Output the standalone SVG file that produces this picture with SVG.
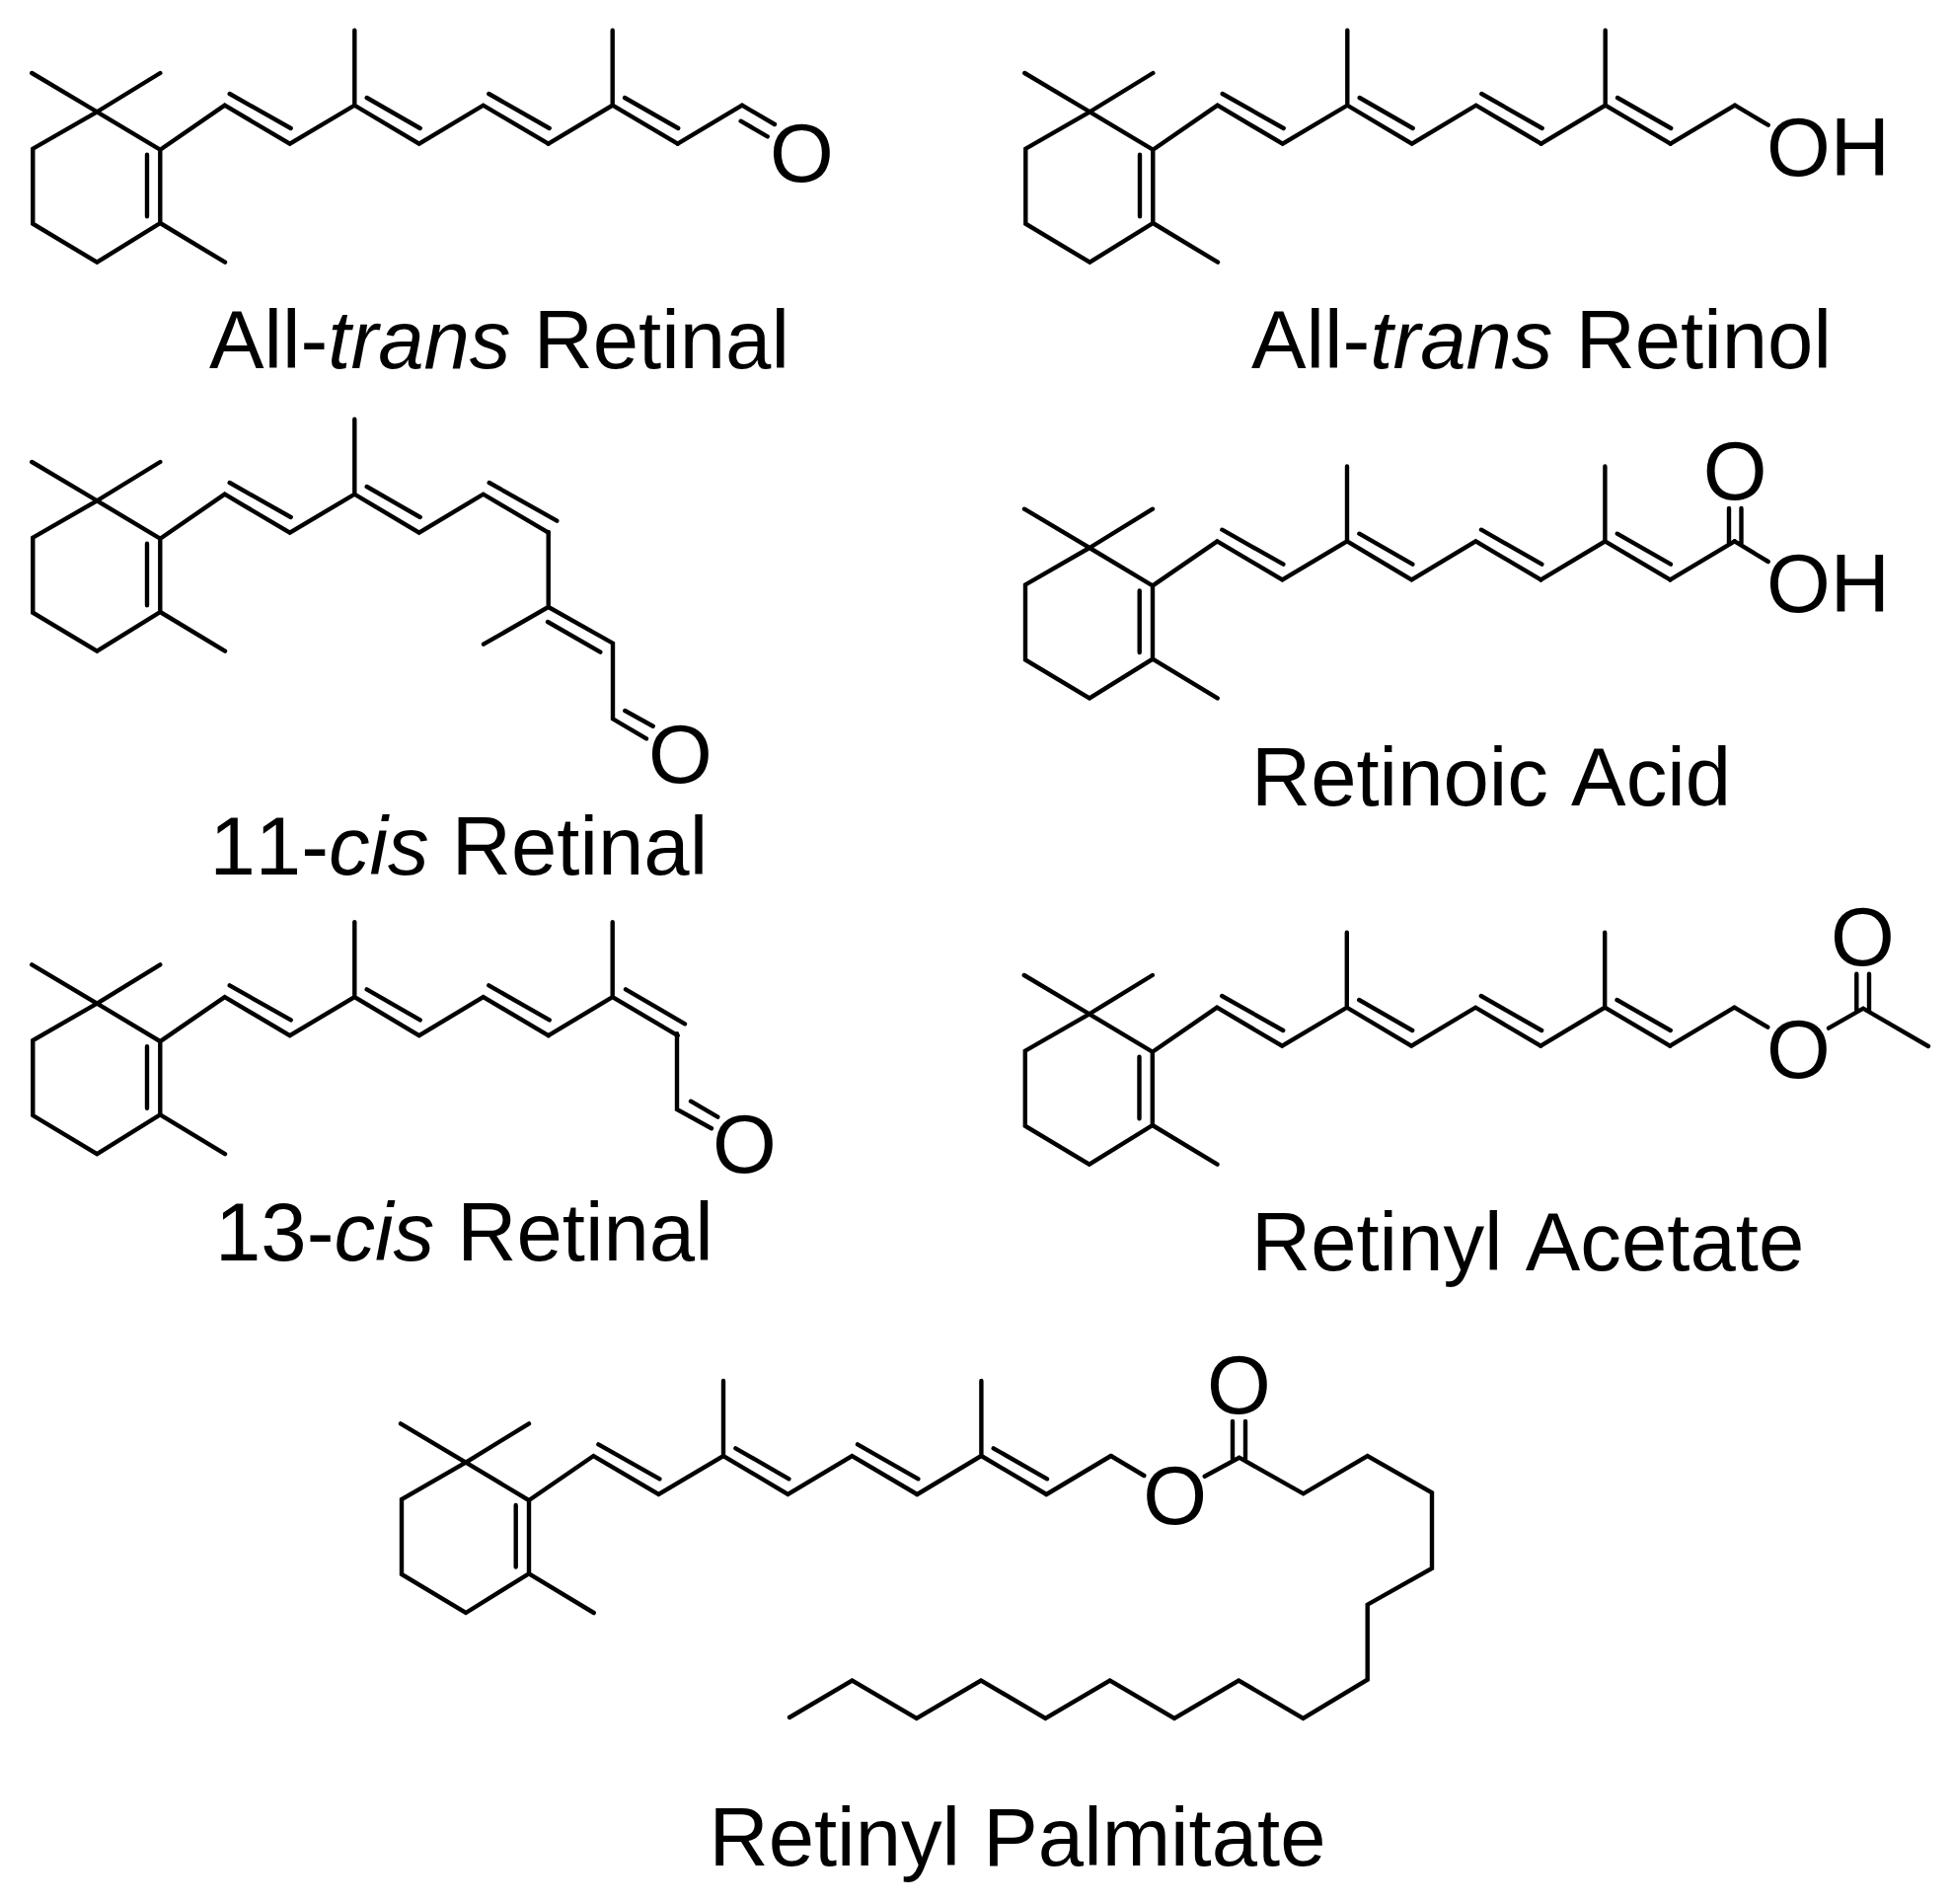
<svg xmlns="http://www.w3.org/2000/svg" width="1978" height="1929" viewBox="0 0 1978 1929">
<style>
.b{fill:none;stroke:#000;stroke-width:4.4;stroke-linejoin:miter;stroke-linecap:round}
.t{font-family:"Liberation Sans",Arial,sans-serif;font-size:83.3px;fill:#000;font-kerning:none}
.i{font-style:italic}
</style>
<defs>
<path id="core" class="b" d="M-66 -39.3L0 0L64 -39.3M0 0L-65 37.4V113.4L0 152.4L64 112.7V38.4L0 0M64 112.7L129.7 152.4M50.7 43.4V106M64 38.4L129.4 -6.6L195.4 32.4L261 -6.6L326.4 32.4L391.4 -6.6L457.4 32.4M261 -6.6V-82.6M134.4 -18.3L196.4 16.7M273.4 -14.3L327.4 16.7"/>
<path id="tail" class="b" d="M397 -18.3L458.4 16.7M457.4 32.4L522.4 -6.6V-82.6M522.4 -6.6L588.4 32.4"/>
<path id="end" class="b" d="M534.7 -14.3L589 16.7M588.4 32.4L653.7 -6.6"/>
</defs>
<rect width="1978" height="1929" fill="#fff"/>
<g id="all-trans-retinal">
<use href="#core" transform="translate(98.3 113.3)"/><use href="#tail" transform="translate(98.3 113.3)"/><use href="#end" transform="translate(98.3 113.3)"/>
<path class="b" d="M752 106.7L785 126M750.7 122.7L777.7 138.3"/>
<text class="t" x="780" y="184">O</text>
<text class="t" x="212" y="373">All-<tspan class="i">trans</tspan> Retinal</text>
</g>
<g id="all-trans-retinol">
<use href="#core" transform="translate(1104.3 113.3)"/><use href="#tail" transform="translate(1104.3 113.3)"/><use href="#end" transform="translate(1104.3 113.3)"/>
<path class="b" d="M1758 106.7L1791.7 126.7"/>
<text class="t" x="1790" y="178">OH</text>
<text class="t" x="1268" y="373">All-<tspan class="i">trans</tspan> Retinol</text>
</g>
<g id="cis-11-retinal">
<use href="#core" transform="translate(98.3 507.3)"/>
<path class="b" d="M495.7 489L564.3 527.7M555.7 539V615L490 652.7M555.7 615L621 651.7V728.3L655 748.3M555 630L608.3 660.7M633.3 720L661.7 735.7"/>
<text class="t" x="657" y="793">O</text>
<text class="t" x="212.5" y="885.7">11-<tspan class="i">cis</tspan> Retinal</text>
</g>
<g id="retinoic-acid">
<use href="#core" transform="translate(1104 555)"/><use href="#tail" transform="translate(1104 555)"/><use href="#end" transform="translate(1104 555)"/>
<path class="b" d="M1757.7 548.4L1791.7 569M1752 515V550.5M1764.5 515V550.5"/>
<text class="t" x="1725.7" y="506">O</text>
<text class="t" x="1790" y="620">OH</text>
<text class="t" x="1268" y="816">Retinoic Acid</text>
</g>
<g id="cis-13-retinal">
<use href="#core" transform="translate(98.3 1016.7)"/><use href="#tail" transform="translate(98.3 1016.7)"/>
<path class="b" d="M634 1002.3L694 1037.3M686 1047.3V1124L721 1143.3M700 1115.7L727.3 1131.7"/>
<text class="t" x="722" y="1188">O</text>
<text class="t" x="218" y="1276.7">13-<tspan class="i">cis</tspan> Retinal</text>
</g>
<g id="retinyl-acetate">
<use href="#core" transform="translate(1103.8 1027.3)"/><use href="#tail" transform="translate(1103.8 1027.3)"/><use href="#end" transform="translate(1103.8 1027.3)"/>
<path class="b" d="M1757.5 1020.7L1791.3 1040.7M1853 1041.7L1888 1021.7L1954 1060M1881.3 986.7V1024M1894 986.7V1024"/>
<text class="t" x="1790" y="1092">O</text>
<text class="t" x="1855" y="978">O</text>
<text class="t" x="1268" y="1286.7">Retinyl Acetate</text>
</g>
<g id="retinyl-palmitate">
<use href="#core" transform="translate(472 1481.6)"/><use href="#tail" transform="translate(472 1481.6)"/><use href="#end" transform="translate(472 1481.6)"/>
<path class="b" d="M1125.7 1475L1159.3 1495M1220.7 1495.7L1255.7 1476.7L1320.7 1513.3L1385.7 1475L1451 1512.3V1589L1385.7 1625.7V1701.7L1320.5 1741L1255.2 1702.5L1190 1741L1124.7 1702.5L1059.4 1741L994.1 1702.5L928.8 1741L863.5 1702.5L800 1740M1249 1440V1478M1262 1440V1478"/>
<text class="t" x="1158.3" y="1544">O</text>
<text class="t" x="1223" y="1432">O</text>
<text class="t" x="718.5" y="1889.5">Retinyl Palmitate</text>
</g>
</svg>
